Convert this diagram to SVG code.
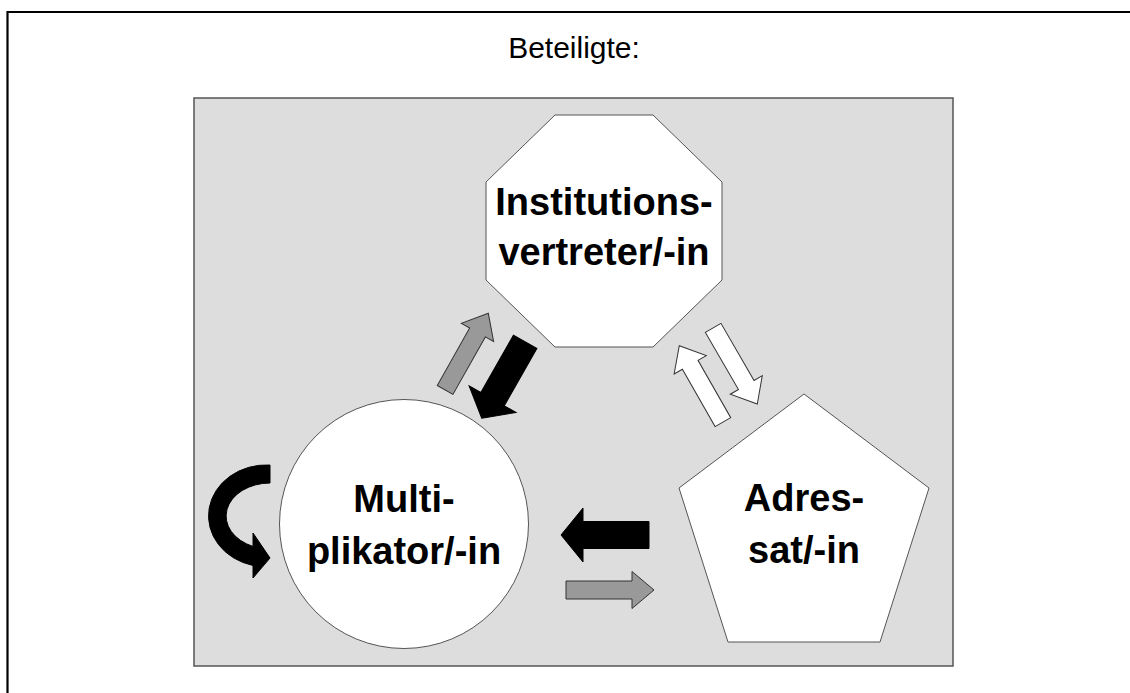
<svg xmlns="http://www.w3.org/2000/svg" xmlns:xlink="http://www.w3.org/1999/xlink" width="1130" height="693" viewBox="0 0 1130 693">
<style>
.frame{fill:none;stroke:#000;stroke-width:2.2}
.panel{fill:#dddddd;stroke:#555;stroke-width:1.5}
.node{fill:#fff;stroke:#555;stroke-width:1}
.label{font-family:"Liberation Sans",Arial,sans-serif;font-weight:bold;font-size:38px;fill:#000;text-anchor:middle}
.title{font-family:"Liberation Sans",Arial,sans-serif;font-size:30px;fill:#000;text-anchor:middle}
.a-black{fill:#000;stroke:#000;stroke-width:1}
.a-gray{fill:#999;stroke:#333;stroke-width:1}
.a-white{fill:#fff;stroke:#333;stroke-width:1}
</style>
<defs>
<polygon id="arrowS" points="0,0 -22,-18.5 -22,-9 -88,-9 -88,9 -22,9 -22,18.5"/>
<polygon id="arrowL" points="0,0 -22,-27 -22,-13.5 -88,-13.5 -88,13.5 -22,13.5 -22,27"/>
</defs>
<rect width="1130" height="693" fill="#fff"/>
<path class="frame" d="M7.5,700 V12 H1140"/>
<text class="title" x="574" y="58">Beteiligte:</text>
<rect class="panel" x="194" y="98" width="759" height="568"/>

<g id="node-institutionsvertreter">
<polygon class="node" points="555,115 653,115 722,182 722,280 653,347 555,347 486,280 486,182"/>
<text class="label" x="604" y="215">Institutions-</text>
<text class="label" x="604" y="265">vertreter/-in</text>
</g>

<g id="node-multiplikator">
<circle class="node" cx="404" cy="524" r="124.5"/>
<text class="label" x="404" y="512">Multi-</text>
<text class="label" x="404" y="564">plikator/-in</text>
</g>

<g id="node-adressat">
<polygon class="node" points="804,394 929,488 880,642 728,642 679,488"/>
<text class="label" x="804" y="511">Adres-</text>
<text class="label" x="804" y="563">sat/-in</text>
</g>

<g id="connectors">
<use xlink:href="#arrowS" class="a-gray" transform="translate(488.3,313.3) rotate(-60.6)"/>
<use xlink:href="#arrowL" class="a-black" transform="translate(481.7,418.3) rotate(119.6)"/>
<use xlink:href="#arrowS" class="a-white" transform="translate(679.3,345.7) rotate(-119.7)"/>
<use xlink:href="#arrowS" class="a-white" transform="translate(757.3,404) rotate(59.9)"/>
<use xlink:href="#arrowL" class="a-black" transform="translate(561,535) rotate(180)"/>
<use xlink:href="#arrowS" class="a-gray" transform="translate(654,590)"/>
<path class="a-black" d="M270,465 A58,51 0 0 0 253,565.5 L253,578 L270,558 L253,533 L253,546.4 A44,33 0 0 1 270,483 Z"/>
</g>
</svg>
